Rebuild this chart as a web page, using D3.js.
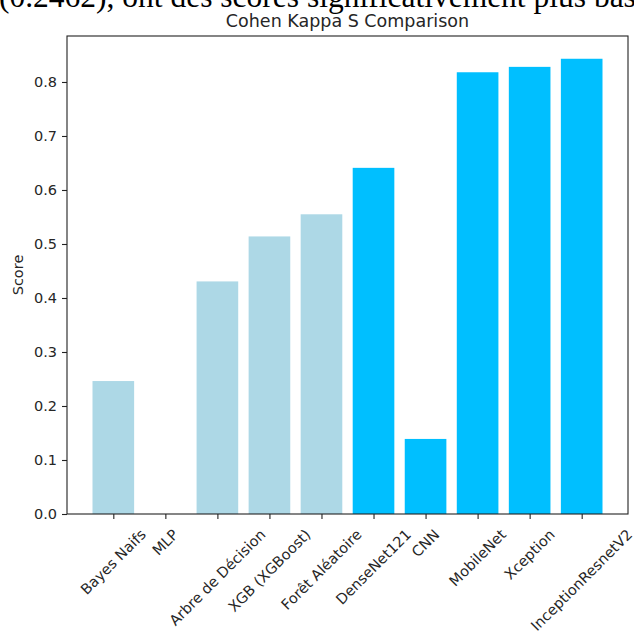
<!DOCTYPE html>
<html>
<head>
<meta charset="utf-8">
<script src="https://cdn.jsdelivr.net/npm/d3@7/dist/d3.min.js"></script>
<style>
  html, body { margin: 0; padding: 0; background: #fff; }
  svg { display: block; }
</style>
</head>
<body>
<svg id="chart" width="634" height="632"></svg>
<script>
// Cohen's kappa per model
const models = ["Bayes Naifs", "MLP", "Arbre de Décision", "XGB (XGBoost)", "Forêt Aléatoire",
                "DenseNet121", "CNN", "MobileNet", "Xception", "InceptionResnetV2"];
const kappaScores = [0.2462, 0.0, 0.4307, 0.514, 0.555, 0.641, 0.139, 0.818, 0.828, 0.843];
const modelFamily = ["classique", "classique", "classique", "classique", "classique",
                     "profond", "profond", "profond", "profond", "profond"];
const yTicks = [0.0, 0.1, 0.2, 0.3, 0.4, 0.5, 0.6, 0.7, 0.8];
const chartTitle = "Cohen Kappa S Comparison";
const yLabel = "Score";
const paragraphText = "(0.2462), ont des scores significativement plus bas";

const svg = d3.select("#chart");
const plot = { left: 67, right: 628, top: 36, bottom: 514 };

const familyColor = d3.scaleOrdinal()
  .domain(["classique", "profond"])
  .range(["#ADD8E6", "#00BFFF"]);

// surrounding paragraph line, partly cut by the top edge
svg.append("text")
  .attr("x", -1)
  .attr("y", 7)
  .attr("font-family", "'Liberation Serif', 'Times New Roman', serif")
  .attr("font-size", 31.5)
  .attr("fill", "#000")
  .text(paragraphText);

// x: bar centres at 0..n-1, 0.8 wide, with 5% margins like the plotting default
const n = models.length;
const span = (n - 1) + 0.8;
const pad = span * 0.05;
const x = d3.scaleLinear()
  .domain([-0.4 - pad, (n - 1) + 0.4 + pad])
  .range([plot.left, plot.right]);

const yMax = d3.max(kappaScores) * 1.05;
const y = d3.scaleLinear().domain([0, yMax]).range([plot.bottom, plot.top]);

// bars
svg.append("g")
  .selectAll("rect")
  .data(kappaScores)
  .join("rect")
  .attr("x", (d, i) => x(i - 0.4))
  .attr("width", (d, i) => x(i + 0.4) - x(i - 0.4))
  .attr("y", d => y(d))
  .attr("height", d => y(0) - y(d))
  .attr("fill", (d, i) => familyColor(modelFamily[i]));

const tickFont = "'DejaVu Sans', sans-serif";
const tickSize = 14.5;
const textColor = "#262626";

// y axis
const yAxis = d3.axisLeft(y)
  .tickValues(yTicks)
  .tickFormat(d3.format(".1f"))
  .tickSize(5)
  .tickPadding(5);
const gy = svg.append("g")
  .attr("transform", `translate(${plot.left},0)`)
  .call(yAxis);
gy.select(".domain").remove();
gy.selectAll(".tick line").attr("stroke", "#222").attr("stroke-width", 1.1);
gy.selectAll(".tick text")
  .attr("font-family", tickFont)
  .attr("font-size", tickSize)
  .attr("fill", textColor);

// x axis ticks
const xAxis = d3.axisBottom(x)
  .tickValues(d3.range(n))
  .tickFormat(() => "")
  .tickSize(5);
const gx = svg.append("g")
  .attr("transform", `translate(0,${plot.bottom})`)
  .call(xAxis);
gx.select(".domain").remove();
gx.selectAll(".tick line").attr("stroke", "#222").attr("stroke-width", 1.1);

// rotated category labels: the rotated box is centred under its tick
const labelTop = plot.bottom + 12;
const lineH = tickSize * 1.16;
const labels = svg.append("g")
  .selectAll("text")
  .data(models)
  .join("text")
  .attr("font-family", tickFont)
  .attr("font-size", tickSize)
  .attr("fill", textColor)
  .attr("text-anchor", "middle")
  .attr("dominant-baseline", "central")
  .text(d => d);
labels.each(function (d, i) {
  const L = this.getComputedTextLength();
  const half = (L + lineH) / (2 * Math.SQRT2);
  const cx = x(i), cy = labelTop + half;
  d3.select(this)
    .attr("x", cx)
    .attr("y", cy)
    .attr("transform", `rotate(-45,${cx},${cy})`);
});

// frame
svg.append("rect")
  .attr("x", plot.left)
  .attr("y", plot.top)
  .attr("width", plot.right - plot.left)
  .attr("height", plot.bottom - plot.top)
  .attr("fill", "none")
  .attr("stroke", "#222")
  .attr("stroke-width", 1.1);

// y label
svg.append("text")
  .attr("transform", `translate(23,${(plot.top + plot.bottom) / 2}) rotate(-90)`)
  .attr("text-anchor", "middle")
  .attr("font-family", tickFont)
  .attr("font-size", tickSize)
  .attr("fill", textColor)
  .text(yLabel);

// title
svg.append("text")
  .attr("x", (plot.left + plot.right) / 2)
  .attr("y", 27)
  .attr("text-anchor", "middle")
  .attr("font-family", tickFont)
  .attr("font-size", 17.5)
  .attr("fill", textColor)
  .text(chartTitle);
</script>
</body>
</html>
